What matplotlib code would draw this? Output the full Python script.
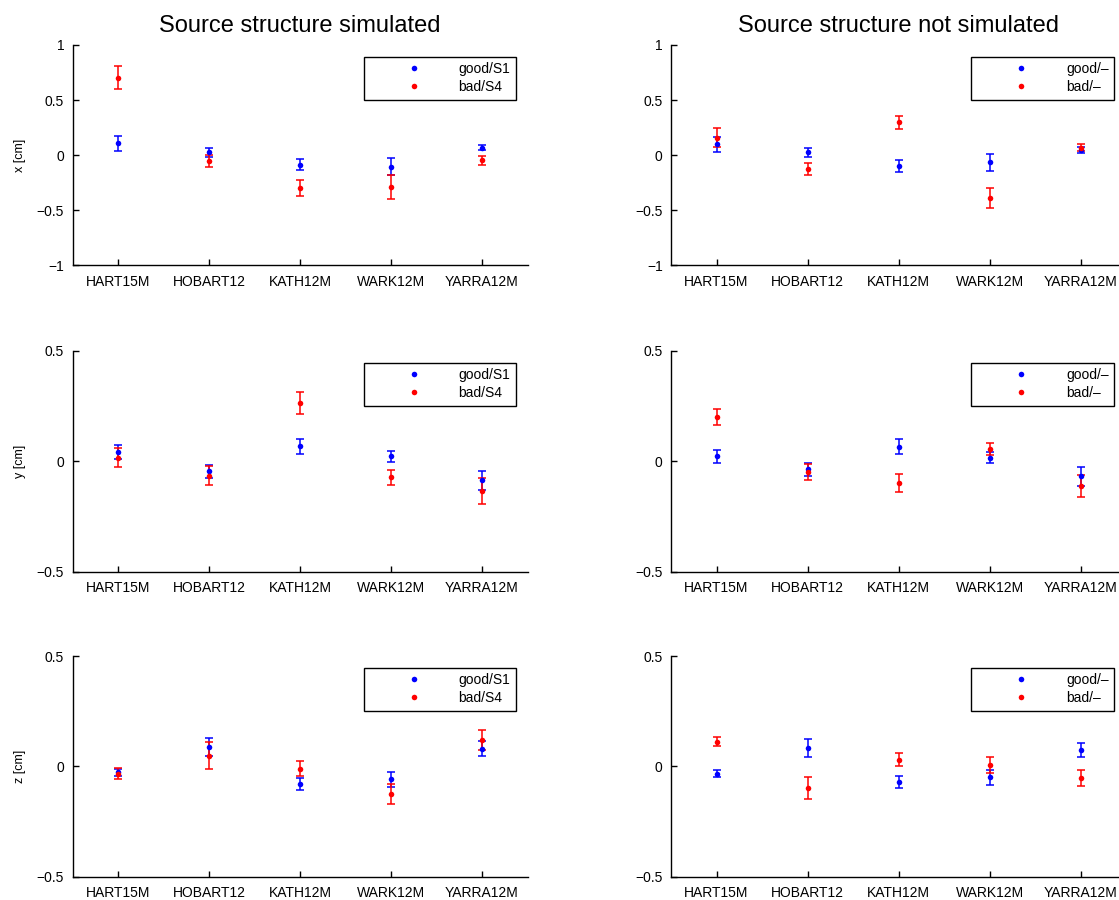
import matplotlib
matplotlib.use("Agg")
import matplotlib.pyplot as plt
import numpy as np

plt.rcParams['font.family'] = ['Liberation Sans', 'DejaVu Sans']

stations = ["HART15M", "HOBART12", "KATH12M", "WARK12M", "YARRA12M"]

# Left column: source structure simulated (good/S1 blue, bad/S4 red)
x_sim_good = [0.109, 0.027, -0.085, -0.103, 0.070]
x_sim_good_err = [0.070, 0.040, 0.053, 0.078, 0.026]
x_sim_bad = [0.703, -0.052, -0.300, -0.288, -0.045]
x_sim_bad_err = [0.104, 0.055, 0.072, 0.110, 0.040]

y_sim_good = [0.042, -0.046, 0.068, 0.022, -0.087]
y_sim_good_err = [0.030, 0.030, 0.034, 0.024, 0.043]
y_sim_bad = [0.016, -0.066, 0.263, -0.072, -0.137]
y_sim_bad_err = [0.044, 0.043, 0.049, 0.034, 0.059]

z_sim_good = [-0.027, 0.088, -0.079, -0.060, 0.080]
z_sim_good_err = [0.016, 0.041, 0.027, 0.035, 0.033]
z_sim_bad = [-0.033, 0.048, -0.012, -0.125, 0.119]
z_sim_bad_err = [0.024, 0.060, 0.034, 0.044, 0.045]

# Right column: source structure not simulated (good/- blue, bad/- red)
x_nosim_good = [0.100, 0.027, -0.097, -0.064, 0.048]
x_nosim_good_err = [0.070, 0.040, 0.053, 0.075, 0.025]
x_nosim_bad = [0.158, -0.124, 0.300, -0.385, 0.070]
x_nosim_bad_err = [0.085, 0.052, 0.060, 0.091, 0.030]

y_nosim_good = [0.022, -0.036, 0.066, 0.017, -0.069]
y_nosim_good_err = [0.030, 0.030, 0.035, 0.024, 0.041]
y_nosim_bad = [0.201, -0.048, -0.098, 0.057, -0.113]
y_nosim_bad_err = [0.036, 0.037, 0.041, 0.027, 0.049]

z_nosim_good = [-0.033, 0.082, -0.071, -0.051, 0.073]
z_nosim_good_err = [0.017, 0.042, 0.026, 0.033, 0.033]
z_nosim_bad = [0.112, -0.097, 0.030, 0.006, -0.053]
z_nosim_bad_err = [0.020, 0.050, 0.030, 0.036, 0.038]

titles = ["Source structure simulated", "Source structure not simulated"]
ylabels = ["x [cm]", "y [cm]", "z [cm]"]
legend_labels = [["good/S1", "bad/S4"], ["good/\u2013", "bad/\u2013"]]

yticks_row1 = [-1, -0.5, 0, 0.5, 1]
yticklabels_row1 = ["\u22121", "\u22120.5", "0", "0.5", "1"]
yticks_row23 = [-0.5, 0, 0.5]
yticklabels_row23 = ["\u22120.5", "0", "0.5"]

data = [
    [(x_sim_good, x_sim_good_err, x_sim_bad, x_sim_bad_err),
     (x_nosim_good, x_nosim_good_err, x_nosim_bad, x_nosim_bad_err)],
    [(y_sim_good, y_sim_good_err, y_sim_bad, y_sim_bad_err),
     (y_nosim_good, y_nosim_good_err, y_nosim_bad, y_nosim_bad_err)],
    [(z_sim_good, z_sim_good_err, z_sim_bad, z_sim_bad_err),
     (z_nosim_good, z_nosim_good_err, z_nosim_bad, z_nosim_bad_err)],
]

W, H = 1119, 900
fig = plt.figure(figsize=(W / 100, H / 100), dpi=100)

col_left_px = [72.5, 671.0]
ax_width_px = 455.0
row_top_px = [45.0, 351.0, 656.0]
ax_height_px = 220.5

pos = np.arange(1, len(stations) + 1)


def draw_series(ax, vals, errs, color, label):
    cont = ax.errorbar(pos, vals, yerr=errs, fmt='o', color=color, ms=4.0,
                       elinewidth=1.1, capsize=2.8, capthick=1.1, label=label)
    cont[0].set_markeredgewidth(0)
    return cont


for r in range(3):
    for c in range(2):
        left = col_left_px[c] / W
        bottom = 1 - (row_top_px[r] + ax_height_px) / H
        ax = fig.add_axes([left, bottom, ax_width_px / W, ax_height_px / H])
        g, ge, b, be = data[r][c]
        draw_series(ax, g, ge, (0, 0, 1), legend_labels[c][0])
        draw_series(ax, b, be, (1, 0, 0), legend_labels[c][1])
        ax.set_xlim(0.5, 5.5)
        if r == 0:
            ax.set_ylim(-1, 1)
            ax.set_yticks(yticks_row1)
            ax.set_yticklabels(yticklabels_row1)
            ax.set_title(titles[c], fontsize=17, pad=9)
        else:
            ax.set_ylim(-0.5, 0.5)
            ax.set_yticks(yticks_row23)
            ax.set_yticklabels(yticklabels_row23)
        ax.set_xticks(pos)
        ax.set_xticklabels(stations)
        ax.tick_params(direction='in', length=4.5, width=1.0, labelsize=10)
        ax.tick_params(axis='y', pad=6)
        ax.tick_params(axis='x', pad=7)
        for s in ['top', 'right']:
            ax.spines[s].set_visible(False)
        for s in ['left', 'bottom']:
            ax.spines[s].set_linewidth(1.0)
        if c == 0:
            ax.set_ylabel(ylabels[r], fontsize=9, labelpad=8)
        handles, labels = ax.get_legend_handles_labels()
        handles = [h[0] for h in handles]
        leg = ax.legend(handles, labels, loc='upper right', fontsize=10,
                        numpoints=1, handlelength=6.4, handletextpad=0.05,
                        borderpad=0.4, labelspacing=0.3, borderaxespad=0.83,
                        fancybox=False, framealpha=1)
        leg.get_frame().set_edgecolor('black')
        leg.get_frame().set_linewidth(1.0)

fig.savefig("out.png", dpi=100)
